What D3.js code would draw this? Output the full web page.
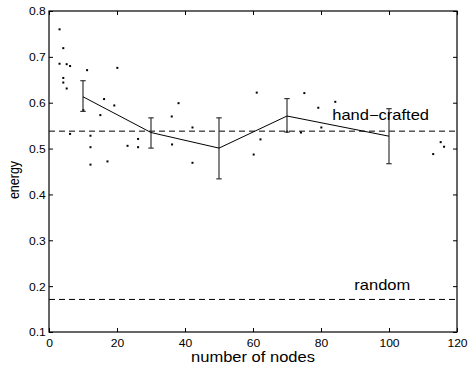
<!DOCTYPE html>
<html>
<head>
<meta charset="utf-8">
<script src="https://cdn.jsdelivr.net/npm/d3@7"></script>
<style>
  html, body { margin: 0; padding: 0; background: #fff; }
  svg { display: block; }
  text { font-family: "Liberation Sans", Arial, Helvetica, sans-serif; fill: #000; }
</style>
</head>
<body>
<svg id="chart" width="469" height="368"></svg>
<script>
// Axis ticks
const xTicks = [0, 20, 40, 60, 80, 100, 120];
const yTicks = [0.1, 0.2, 0.3, 0.4, 0.5, 0.6, 0.7, 0.8];

// Individual trials (number of nodes, energy)
const trialNodes = [3.1, 4.2, 3.1, 5.2, 6.2, 4.2, 4.2, 5.2, 6.2, 11.2, 20.1, 16.2, 19.2, 15.1, 10.1,
  12.2, 12.2, 12.2, 17.2, 23.1, 26.2, 26.2, 36.1, 38.1, 36.2, 42.2, 42.2, 61.1, 62.2, 60.2,
  75.1, 79.2, 84.2, 74.1, 80.1, 70.0, 113.0, 115.2, 116.2];
const trialEnergy = [0.760, 0.719, 0.685, 0.684, 0.680, 0.654, 0.644, 0.631, 0.532, 0.671, 0.676, 0.608, 0.594, 0.573, 0.584,
  0.528, 0.503, 0.465, 0.472, 0.506, 0.521, 0.503, 0.570, 0.599, 0.509, 0.546, 0.469, 0.622, 0.520, 0.487,
  0.621, 0.589, 0.602, 0.535, 0.546, 0.537, 0.488, 0.514, 0.504];

// Mean curve with error bars
const meanNodes = [10, 30, 50, 70, 100];
const meanEnergy = [0.613, 0.535, 0.501, 0.571, 0.527];
const errLow = [0.581, 0.501, 0.434, 0.536, 0.467];
const errHigh = [0.648, 0.567, 0.567, 0.609, 0.587];

// Reference levels
const refNames = ["hand\u2212crafted", "random"];
const refEnergy = [0.538, 0.171];

const W = 469, H = 368;
const m = { top: 11, right: 12, bottom: 36, left: 49 };
const iW = W - m.left - m.right;   // 408
const iH = H - m.top - m.bottom;   // 321

const svg = d3.select("#chart");
const g = svg.append("g").attr("transform", `translate(${m.left},${m.top})`);

const x = d3.scaleLinear().domain([0, 120]).range([0, iW]);
const y = d3.scaleLinear().domain([0.1, 0.8]).range([iH, 0]);

// text drawn slightly wider than tall, like the original figure
function label(parent, txt, px, py, size, sx, anchor, rot) {
  let tr = `translate(${px},${py}) scale(${sx},1)`;
  if (rot) tr += ` rotate(${rot})`;
  return parent.append("text")
    .attr("transform", tr)
    .attr("text-anchor", anchor)
    .style("font-size", size + "px")
    .text(txt);
}

// Axes (MATLAB style: inward ticks on all four sides)
const tk = 4;
g.append("g").attr("transform", `translate(0,${iH})`)
  .call(d3.axisBottom(x).tickValues(xTicks).tickSize(-tk).tickFormat(d3.format("d")))
  .call(ax => {
    ax.select(".domain").remove();
    ax.selectAll(".tick line").attr("stroke", "#000");
    ax.selectAll(".tick text").attr("y", 15).attr("dy", 0)
      .attr("transform", "scale(1.1,1)").style("font-size", "11px").attr("fill", "#000");
  });
g.append("g")
  .call(d3.axisLeft(y).tickValues(yTicks).tickSize(-tk).tickFormat(d3.format(".1f")))
  .call(ax => {
    ax.select(".domain").remove();
    ax.selectAll(".tick line").attr("stroke", "#000");
    ax.selectAll(".tick text").attr("x", -3).attr("y", 3.9).attr("dy", 0)
      .attr("transform", "scale(1.1,1)").style("font-size", "11px").attr("fill", "#000");
  });
g.append("g")
  .call(d3.axisTop(x).tickValues(xTicks).tickSize(-tk).tickFormat(""))
  .call(ax => { ax.select(".domain").remove(); ax.selectAll(".tick line").attr("stroke", "#000"); });
g.append("g").attr("transform", `translate(${iW},0)`)
  .call(d3.axisRight(y).tickValues(yTicks).tickSize(-tk).tickFormat(""))
  .call(ax => { ax.select(".domain").remove(); ax.selectAll(".tick line").attr("stroke", "#000"); });

// Reference dashed lines
g.selectAll(".ref").data(refEnergy).join("line")
  .attr("class", "ref")
  .attr("x1", x(0)).attr("x2", x(120))
  .attr("y1", d => y(d)).attr("y2", d => y(d))
  .attr("stroke", "#000").attr("stroke-width", 1).attr("stroke-dasharray", "6,4");

// Trial dots
g.selectAll(".dot").data(trialNodes).join("rect")
  .attr("class", "dot")
  .attr("x", d => x(d) - 1)
  .attr("y", (d, i) => y(trialEnergy[i]) - 1)
  .attr("width", 2).attr("height", 2).attr("fill", "#000");

// Error bars
const capW = 2.7;
const eb = g.append("g").attr("stroke", "#333").attr("stroke-width", 1.2);
meanNodes.forEach((n, i) => {
  const cx = x(n);
  eb.append("line").attr("x1", cx).attr("x2", cx).attr("y1", y(errLow[i])).attr("y2", y(errHigh[i]));
  eb.append("line").attr("x1", cx - capW).attr("x2", cx + capW).attr("y1", y(errLow[i])).attr("y2", y(errLow[i]));
  eb.append("line").attr("x1", cx - capW).attr("x2", cx + capW).attr("y1", y(errHigh[i])).attr("y2", y(errHigh[i]));
});

// Mean line
g.append("path")
  .datum(meanNodes.map((n, i) => [n, meanEnergy[i]]))
  .attr("fill", "none").attr("stroke", "#000").attr("stroke-width", 1)
  .attr("d", d3.line().x(d => x(d[0])).y(d => y(d[1])));

// Box
g.append("rect").attr("x", 0).attr("y", 0).attr("width", iW).attr("height", iH)
  .attr("fill", "none").attr("stroke", "#000").attr("stroke-width", 1.2);

// Reference labels
label(g, refNames[0], x(83.3), y(refEnergy[0]) - 11, 14, 1.18, "start");
label(g, refNames[1], x(89.8), y(refEnergy[1]) - 9, 14, 1.18, "start");

// Axis titles
label(svg, "number of nodes", m.left + iW / 2, 362, 14, 1.18, "middle");
label(svg, "energy", 18.5, 180, 12.5, 1.15, "middle", -90);
</script>
</body>
</html>
